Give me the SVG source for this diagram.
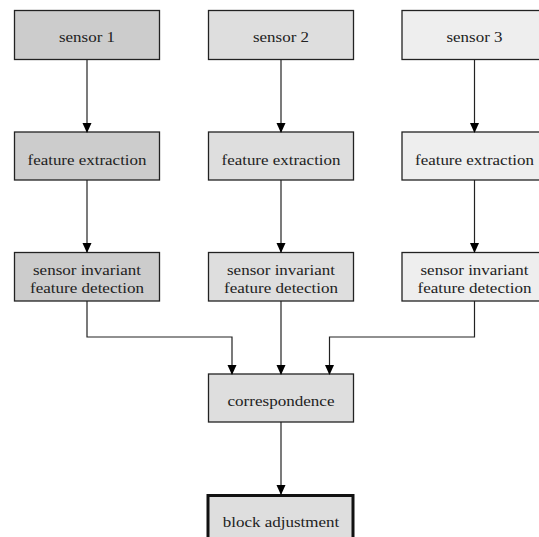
<svg xmlns="http://www.w3.org/2000/svg" width="539" height="537" viewBox="0 0 539 537">
<defs>
<marker id="ah" markerWidth="10" markerHeight="11" refX="10" refY="5" orient="auto" markerUnits="userSpaceOnUse" viewBox="0 0 11 10">
<path d="M0,0 L11,5 L0,10 Z" fill="#000"/>
</marker>
</defs>
<style>
.b{stroke:#222;stroke-width:1.3}
.c1{fill:#cccccc}.c2{fill:#dedede}.c3{fill:#eeeeee}
text{font-family:'Liberation Serif','DejaVu Serif',serif;font-size:14.5px;fill:#222;text-anchor:middle}
.e{fill:none;stroke:#222;stroke-width:1.2}
</style>
<rect width="539" height="537" fill="#fff"/>
<g id="s1"><rect class="b c1" x="14.5" y="10.5" width="145" height="49"/><text x="87" y="42" textLength="56" lengthAdjust="spacingAndGlyphs">sensor 1</text></g>
<g id="s2"><rect class="b c2" x="208.5" y="10.5" width="145" height="49"/><text x="281" y="42" textLength="56" lengthAdjust="spacingAndGlyphs">sensor 2</text></g>
<g id="s3"><rect class="b c3" x="402" y="10.5" width="145" height="49"/><text x="474.5" y="42" textLength="56" lengthAdjust="spacingAndGlyphs">sensor 3</text></g>
<g id="f1"><rect class="b c1" x="14.5" y="132" width="145" height="48"/><text x="87" y="164.5" textLength="119" lengthAdjust="spacingAndGlyphs">feature extraction</text></g>
<g id="f2"><rect class="b c2" x="208.5" y="132" width="145" height="48"/><text x="281" y="164.5" textLength="119" lengthAdjust="spacingAndGlyphs">feature extraction</text></g>
<g id="f3"><rect class="b c3" x="402" y="132" width="145" height="48"/><text x="474.5" y="164.5" textLength="119" lengthAdjust="spacingAndGlyphs">feature extraction</text></g>
<g id="d1"><rect class="b c1" x="14.5" y="252.5" width="145" height="48.5"/><text x="87" y="274.5" textLength="108" lengthAdjust="spacingAndGlyphs">sensor invariant</text><text x="87" y="293" textLength="114" lengthAdjust="spacingAndGlyphs">feature detection</text></g>
<g id="d2"><rect class="b c2" x="208.5" y="252.5" width="145" height="48.5"/><text x="281" y="274.5" textLength="108" lengthAdjust="spacingAndGlyphs">sensor invariant</text><text x="281" y="293" textLength="114" lengthAdjust="spacingAndGlyphs">feature detection</text></g>
<g id="d3"><rect class="b c3" x="402" y="252.5" width="145" height="48.5"/><text x="474.5" y="274.5" textLength="108" lengthAdjust="spacingAndGlyphs">sensor invariant</text><text x="474.5" y="293" textLength="114" lengthAdjust="spacingAndGlyphs">feature detection</text></g>
<g id="corr"><rect class="b c2" x="208.5" y="374" width="145" height="48"/><text x="281" y="406" textLength="107" lengthAdjust="spacingAndGlyphs">correspondence</text></g>
<g id="ba"><rect class="c2" x="208" y="495.5" width="145" height="48" stroke="#111" stroke-width="3"/><text x="281" y="527" textLength="116.5" lengthAdjust="spacingAndGlyphs">block adjustment</text></g>
<g id="edges">
<path class="e" d="M87,60 V132" marker-end="url(#ah)"/>
<path class="e" d="M281,60 V132" marker-end="url(#ah)"/>
<path class="e" d="M474.5,60 V132" marker-end="url(#ah)"/>
<path class="e" d="M87,180 V252" marker-end="url(#ah)"/>
<path class="e" d="M281,180 V252" marker-end="url(#ah)"/>
<path class="e" d="M474.5,180 V252" marker-end="url(#ah)"/>
<path class="e" d="M87,301 V337 H232 V374" marker-end="url(#ah)"/>
<path class="e" d="M281,301 V374" marker-end="url(#ah)"/>
<path class="e" d="M474.5,301 V337 H329.5 V374" marker-end="url(#ah)"/>
<path class="e" d="M281,422 V494" marker-end="url(#ah)"/>
</g>
</svg>
